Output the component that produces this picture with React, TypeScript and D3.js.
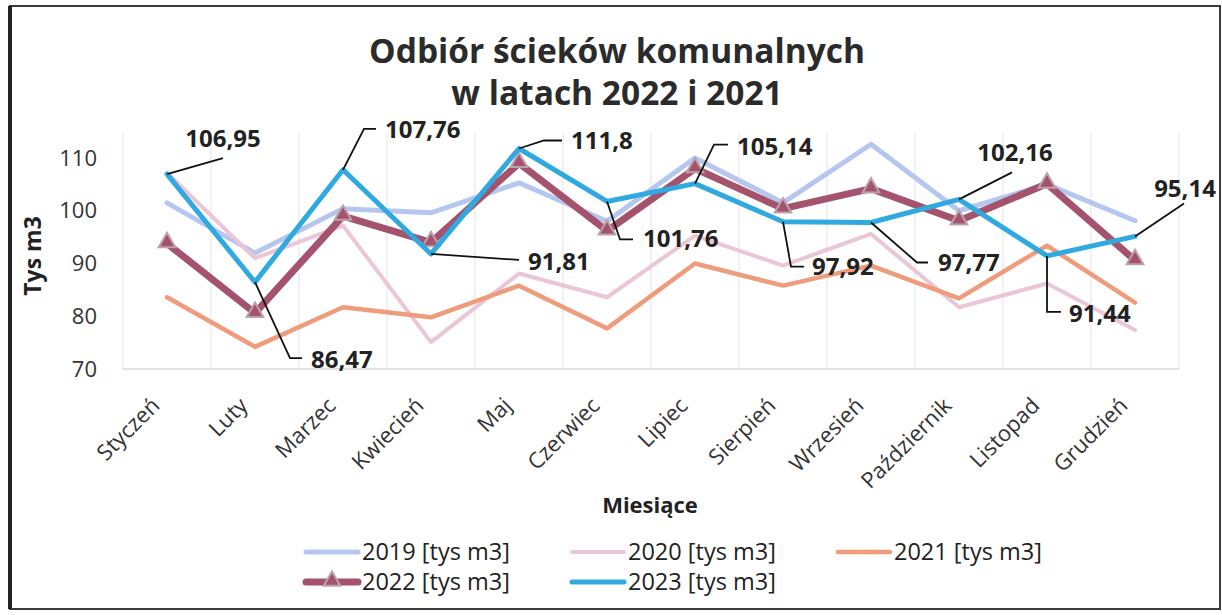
import React, { useEffect, useRef } from 'react';
import * as d3 from 'd3';

const MONTHS = ['Styczeń', 'Luty', 'Marzec', 'Kwiecień', 'Maj', 'Czerwiec', 'Lipiec', 'Sierpień', 'Wrzesień', 'Październik', 'Listopad', 'Grudzień'];
const Y2019 = [101.5, 92.0, 100.4, 99.6, 105.3, 98.0, 110.0, 101.5, 112.6, 100.0, 105.0, 98.1];
const Y2020 = [107.2, 91.0, 97.2, 75.1, 88.1, 83.6, 95.3, 89.6, 95.6, 81.7, 86.2, 77.4];
const Y2021 = [83.6, 74.2, 81.7, 79.8, 85.8, 77.7, 90.0, 85.8, 89.6, 83.4, 93.4, 82.6];
const Y2022 = [93.8, 80.6, 99.0, 94.0, 109.0, 96.2, 108.0, 100.4, 104.2, 98.1, 105.1, 90.6];
const Y2023 = [106.95, 86.47, 107.76, 91.81, 111.8, 101.76, 105.14, 97.92, 97.77, 102.16, 91.44, 95.14];
const Y_TICKS = [70, 80, 90, 100, 110];

// leader line bends + text position, relative to the 2023 point
const LABEL_LAYOUT: { path: [number, number][]; tx: number; ty: number; anchor: string }[] = [
    { path: [[56, -16]], tx: 56, ty: -27, anchor: 'middle' },
    { path: [[35, 76], [47, 76]], tx: 56, ty: 86, anchor: 'start' },
    { path: [[21, -41], [33, -41]], tx: 42, ty: -32, anchor: 'start' },
    { path: [[88, 6]], tx: 97, ty: 16, anchor: 'start' },
    { path: [[25, -8], [43, -8]], tx: 52, ty: 0, anchor: 'start' },
    { path: [[13, 38], [26, 38]], tx: 36, ty: 46, anchor: 'start' },
    { path: [[19, -39], [33, -39]], tx: 42, ty: -29, anchor: 'start' },
    { path: [[8, 45], [21, 45]], tx: 29, ty: 53, anchor: 'start' },
    { path: [[46, 40], [57, 40]], tx: 67, ty: 48, anchor: 'start' },
    { path: [[53, -27]], tx: 56, ty: -38, anchor: 'middle' },
    { path: [[0, 56], [14, 56]], tx: 22, ty: 66, anchor: 'start' },
    { path: [[49, -33]], tx: 50, ty: -39, anchor: 'middle' },
];

const FONT = "'Open Sans', 'Noto Sans', sans-serif";

const SERIES = [
    { name: '2019 [tys m3]', values: Y2019, color: '#b5c7ef', width: 5, marker: false },
    { name: '2020 [tys m3]', values: Y2020, color: '#ebc6d7', width: 4, marker: false },
    { name: '2021 [tys m3]', values: Y2021, color: '#ef9c7c', width: 4.5, marker: false },
    { name: '2022 [tys m3]', values: Y2022, color: '#a5526c', width: 7, marker: true },
    { name: '2023 [tys m3]', values: Y2023, color: '#2fa9df', width: 5, marker: false },
];

const App = () => {
    const svgRef = useRef<SVGSVGElement | null>(null);

    useEffect(() => {
        const width = 1222;
        const height = 615;
        const svg = d3.select(svgRef.current);
        svg.selectAll('*').remove();

        const plotLeft = 123;
        const plotRight = 1179;
        const plotTop = 133;

        const x = d3.scaleBand<string>().domain(MONTHS).range([plotLeft, plotRight]).padding(0);
        const y = d3.scaleLinear().domain([70, 110]).range([369, 158]);
        const cx = (i: number) => (x(MONTHS[i]) as number) + x.bandwidth() / 2;

        svg.append('rect').attr('width', width).attr('height', height).attr('fill', '#fff');

        // frame
        svg.append('rect')
            .attr('x', 10).attr('y', 6)
            .attr('width', 1210).attr('height', 603)
            .attr('fill', 'none')
            .attr('stroke', '#3c3c3c')
            .attr('stroke-width', 2);
        svg.append('line')
            .attr('x1', 10).attr('x2', 10).attr('y1', 6).attr('y2', 609)
            .attr('stroke', '#222').attr('stroke-width', 4);

        // title
        const title = svg.append('text')
            .attr('x', 617)
            .attr('text-anchor', 'middle')
            .style('font-family', FONT)
            .style('font-weight', 700)
            .style('font-size', '33.5px')
            .attr('fill', '#2b2b2b');
        title.append('tspan').attr('x', 617).attr('y', 63).text('Odbiór ścieków komunalnych');
        title.append('tspan').attr('x', 617).attr('y', 105).text('w latach 2022 i 2021');

        // vertical grid
        const bounds = MONTHS.map(m => x(m) as number).concat([plotRight]);
        svg.append('g')
            .selectAll('line')
            .data(bounds)
            .join('line')
            .attr('x1', d => d).attr('x2', d => d)
            .attr('y1', plotTop).attr('y2', y(70))
            .attr('stroke', '#e3e3e3')
            .attr('stroke-width', 1);

        svg.append('line')
            .attr('x1', plotLeft).attr('x2', plotRight)
            .attr('y1', y(70)).attr('y2', y(70))
            .attr('stroke', '#d9d9d9')
            .attr('stroke-width', 1.5);

        // y axis ticks
        svg.append('g')
            .selectAll('text')
            .data(Y_TICKS)
            .join('text')
            .attr('x', 97)
            .attr('y', d => y(d))
            .attr('dy', '0.35em')
            .attr('text-anchor', 'end')
            .style('font-family', FONT)
            .style('font-size', '22px')
            .attr('fill', '#333')
            .text(d => d);

        svg.append('text')
            .attr('transform', 'translate(41,256) rotate(-90)')
            .attr('text-anchor', 'middle')
            .style('font-family', FONT)
            .style('font-weight', 700)
            .style('font-size', '23px')
            .attr('fill', '#222')
            .text('Tys m3');

        // x axis labels
        svg.append('g')
            .selectAll('text')
            .data(MONTHS)
            .join('text')
            .attr('transform', (d, i) => `translate(${cx(i) - 6},${407}) rotate(-45)`)
            .attr('text-anchor', 'end')
            .style('font-family', FONT)
            .style('font-size', '22px')
            .attr('fill', '#333')
            .text(d => d);

        svg.append('text')
            .attr('x', 650)
            .attr('y', 513)
            .attr('text-anchor', 'middle')
            .style('font-family', FONT)
            .style('font-weight', 700)
            .style('font-size', '22px')
            .attr('fill', '#222')
            .text('Miesiące');

        // lines
        const line = d3.line<number>()
            .x((d, i) => cx(i))
            .y(d => y(d));

        SERIES.forEach(s => {
            svg.append('path')
                .datum(s.values)
                .attr('d', line)
                .attr('fill', 'none')
                .attr('stroke', s.color)
                .attr('stroke-width', s.width)
                .attr('stroke-linejoin', 'round')
                .attr('stroke-linecap', 'round');
            if (s.marker) {
                svg.append('g')
                    .selectAll('path')
                    .data(s.values)
                    .join('path')
                    .attr('d', d3.symbol(d3.symbolTriangle, 120)())
                    .attr('transform', (d, i) => `translate(${cx(i)},${y(d) - 1})`)
                    .attr('fill', s.color)
                    .attr('stroke', '#bba3ab')
                    .attr('stroke-width', 2);
            }
        });

        // data labels for 2023
        const labels = svg.append('g');
        Y2023.forEach((v, i) => {
            const px = cx(i);
            const py = y(v);
            const lay = LABEL_LAYOUT[i];
            const pts: [number, number][] = [[px, py], ...lay.path.map(([dx, dy]) => [px + dx, py + dy] as [number, number])];
            labels.append('path')
                .attr('d', d3.line()(pts))
                .attr('fill', 'none')
                .attr('stroke', '#111')
                .attr('stroke-width', 1.8);
            labels.append('text')
                .attr('x', px + lay.tx)
                .attr('y', py + lay.ty)
                .attr('text-anchor', lay.anchor)
                .style('font-family', FONT)
                .style('font-weight', 700)
                .style('font-size', '24px')
                .attr('fill', '#222')
                .text(String(v).replace('.', ','));
        });

        // legend
        const legendCols = [306, 572, 838];
        const legendRows = [552, 582];
        SERIES.forEach((s, i) => {
            const lx = legendCols[i % 3];
            const ly = legendRows[Math.floor(i / 3)];
            const g = svg.append('g');
            g.append('line')
                .attr('x1', lx).attr('x2', lx + 52)
                .attr('y1', ly).attr('y2', ly)
                .attr('stroke', s.color)
                .attr('stroke-width', s.width)
                .attr('stroke-linecap', 'round');
            if (s.marker) {
                g.append('path')
                    .attr('d', d3.symbol(d3.symbolTriangle, 120)())
                    .attr('transform', `translate(${lx + 26},${ly - 1})`)
                    .attr('fill', s.color)
                    .attr('stroke', '#bba3ab')
                    .attr('stroke-width', 2);
            }
            g.append('text')
                .attr('x', lx + 56)
                .attr('y', ly)
                .attr('dy', '0.35em')
                .style('font-family', FONT)
                .style('font-size', '23.5px')
                .attr('fill', '#222')
                .text(s.name);
        });
    }, []);

    return (
        <div style={{ position: 'absolute', left: 0, top: 0 }}>
            <svg ref={svgRef} width={1222} height={615} style={{ display: 'block' }} />
        </div>
    );
};

export default App;
